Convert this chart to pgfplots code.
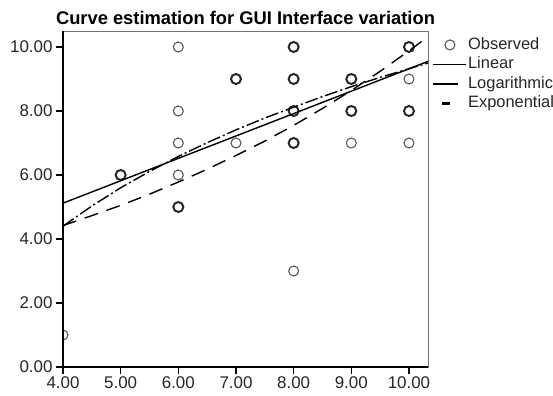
\documentclass[border=0pt]{standalone}
\usepackage{fontspec}
\setmainfont{Liberation Sans}
\usepackage{pgfplots}
\pgfplotsset{compat=1.18}
\pgfplotsset{
  legobs/.style={legend image code/.code={\path[draw=none,fill=none] (0bp,-3bp) rectangle (33bp,3bp); \draw[##1] plot coordinates {(17bp,0bp)};}},
  leglin/.style={legend image code/.code={\path[draw=none,fill=none] (0bp,-3bp) rectangle (33bp,3bp); \draw[##1] (0bp,0bp) -- (33bp,0bp);}},
  leglog/.style={legend image code/.code={\path[draw=none,fill=none] (0bp,-3bp) rectangle (33bp,3bp); \draw[##1, solid] (0bp,0bp) -- (25bp,0bp);}},
  legexp/.style={legend image code/.code={\path[draw=none,fill=none] (0bp,-3bp) rectangle (33bp,3bp); \draw[##1, solid, line width=2.4bp] (9bp,0bp) -- (17bp,0bp);}},
}
\begin{document}
\begin{tikzpicture}
\path[use as bounding box] (-63bp,-29bp) rectangle (490bp,367bp);
\begin{axis}[
  scale only axis, width=365bp, height=336bp,
  at={(0,0)}, anchor=south west,
  xmin=4, xmax=10.33, ymin=0, ymax=10.5,
  xtick={4,5,6,7,8,9,10}, ytick={0,2,4,6,8,10},
  tick align=outside, xtick pos=bottom, ytick pos=left,
  major tick length=7bp,
  tick style={black, line width=1.2bp},
  axis line style={black!55, line width=0.9bp},
  /pgf/number format/.cd, fixed, fixed zerofill, precision=2, assume math mode=true,
  /pgfplots/.cd,
  ticklabel style={font=\fontsize{17}{19}\selectfont, text=black!85},
  xticklabel style={yshift=1bp},
  title={Curve estimation for GUI Interface variation},
  title style={font=\bfseries\fontsize{18.4}{21}\selectfont, yshift=-3bp},
  clip marker paths=true,
  legend style={at={(1,1)}, anchor=north west, xshift=4bp, yshift=-4bp,
    draw=none, fill=none, inner sep=0pt, row sep=0bp,
    font=\fontsize{16.5}{19}\selectfont,
    nodes={inner sep=1.5bp, text height=12.5bp, text depth=4bp, text=black!85}},
  legend cell align=left,
  after end axis/.code={\draw[black, line width=1.5bp] (rel axis cs:0,1) -- (rel axis cs:0,0) -- (rel axis cs:1,0);},
]
% single observations
\addplot[only marks, mark=o, mark size=5bp, draw=black!65, line width=1.1bp, legobs]
  coordinates {(4,1) (6,10) (6,8) (6,7) (6,6) (7,7) (8,3) (9,7) (10,9) (10,7)};
\addlegendentry{Observed}
% repeated observations (drawn bolder)
\addplot[only marks, mark=o, mark size=5bp, draw=black!85, line width=2bp, forget plot]
  coordinates {(5,6) (6,5) (7,9) (8,10) (8,9) (8,8) (8,7) (9,9) (9,8) (10,10) (10,8)};
% linear
\addplot[black, line width=1.4bp, leglin]
  coordinates {(4,5.12) (10.33,9.55)};
\addlegendentry{Linear}
% logarithmic
\addplot[black, line width=1.4bp, dash pattern=on 13bp off 3bp on 2bp off 3bp, leglog]
  coordinates {(4,4.40) (4.5,5.03) (5,5.60) (5.5,6.11) (6,6.58) (6.5,7.01) (7,7.41) (7.5,7.78) (8,8.12) (8.5,8.45) (9,8.76) (9.5,9.05) (10,9.32) (10.33,9.50)};
\addlegendentry{Logarithmic}
% exponential
\addplot[black, line width=1.4bp, dash pattern=on 14bp off 9bp, legexp]
  coordinates {(4,4.42) (4.5,4.73) (5,5.05) (5.5,5.40) (6,5.78) (6.5,6.18) (7,6.61) (7.5,7.06) (8,7.55) (8.5,8.08) (9,8.64) (9.5,9.24) (10,9.88) (10.33,10.32)};
\addlegendentry{Exponential}
\end{axis}
\end{tikzpicture}
\end{document}
